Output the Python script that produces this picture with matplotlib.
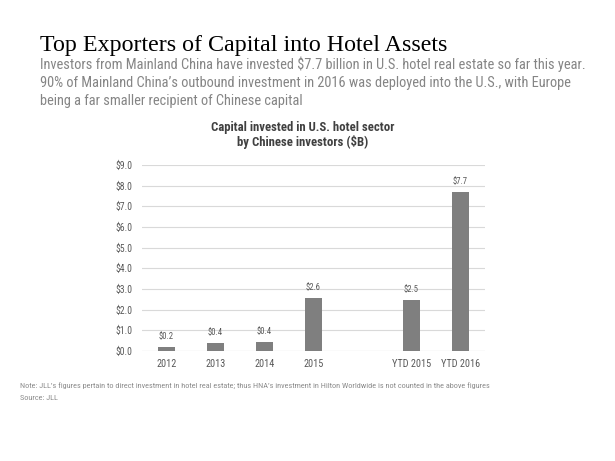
import matplotlib
matplotlib.use("Agg")
import matplotlib.pyplot as plt
from matplotlib import font_manager

# chart data
categories = ["2012", "2013", "2014", "2015", "", "YTD 2015", "YTD 2016"]
values = [0.2, 0.38, 0.42, 2.55, None, 2.45, 7.7]
value_labels = ["$0.2", "$0.4", "$0.4", "$2.6", "", "$2.5", "$7.7"]
yticks = [0, 1, 2, 3, 4, 5, 6, 7, 8, 9]

# pick an Arial Narrow look-alike, preferring one that has a bold face
fl = font_manager.fontManager.ttflist
cands = ["Liberation Sans Narrow", "Arial Narrow", "Archivo Narrow", "Roboto Condensed",
         "PT Sans Narrow", "Fira Sans Condensed", "Encode Sans Condensed",
         "IBM Plex Sans Condensed", "Open Sans Condensed"]
narrow = "Liberation Sans"
for cand in cands:
    faces = [f for f in fl if f.name == cand]
    if faces and any(int(f.weight) >= 600 for f in faces if str(f.weight).isdigit()):
        narrow = cand
        break
else:
    for cand in cands:
        if any(f.name == cand for f in fl):
            narrow = cand
            break

fig = plt.figure(figsize=(6.15, 4.61), dpi=100)
fig.patch.set_facecolor("white")
renderer = fig.canvas.get_renderer()


def size_for(text, target_px, **kw):
    # font size that makes text span target_px
    t = fig.text(0, 0, text, fontsize=10, **kw)
    w = t.get_window_extent(renderer).width
    t.remove()
    return 10 * target_px / w


title_size = size_for("Top Exporters of Capital into Hotel Assets", 407, family="Liberation Serif")
fig.text(40 / 615, 1 - 45 / 461, "Top Exporters of Capital into Hotel Assets",
         family="Liberation Serif", fontsize=title_size, color="black", va="center")

sub_lines = ["Investors from Mainland China have invested $7.7 billion in U.S. hotel real estate so far this year.",
             "90% of Mainland China\u2019s outbound investment in 2016 was deployed into the U.S., with Europe",
             "being a far smaller recipient of Chinese capital"]
sub_size = size_for(sub_lines[0], 544, family=narrow)
for i, line in enumerate(sub_lines):
    fig.text(40 / 615, 1 - (64 + i * 18.5) / 461, line, family=narrow, fontsize=sub_size,
             color="#858585", va="center")

ytick_size = size_for("$9.0", 17, family=narrow)
xtick_size = size_for("YTD 2015", 39, family=narrow)
val_size = size_for("$0.2", 15, family=narrow)

ax = fig.add_axes([142 / 615, 1 - 351 / 461, (485 - 142) / 615, (351 - 165) / 461])
xs = [i for i, v in enumerate(values) if v is not None]
hs = [v for v in values if v is not None]
ax.bar(xs, hs, width=0.33, color="#7f7f7f", zorder=3)
for i, v in enumerate(values):
    if v is not None:
        ax.text(i, v + 0.3, value_labels[i], ha="center", va="bottom",
                family=narrow, fontsize=val_size, color="#595959")

ax.set_xlim(-0.5, 6.5)
ax.set_ylim(0, 9)
ax.set_yticks(yticks)
ax.set_yticklabels([f"${t:.1f}" for t in yticks], family=narrow, fontsize=ytick_size, color="#595959")
ax.set_xticks(range(len(categories)))
ax.set_xticklabels(categories, family=narrow, fontsize=xtick_size, color="#595959")
ax.yaxis.grid(True, color="#d9d9d9", linewidth=0.8, zorder=0)
ax.tick_params(axis="y", length=0, pad=7)
ax.tick_params(axis="x", length=0, pad=6)
for s in ax.spines.values():
    s.set_visible(False)
ax.axhline(0, color="#d9d9d9", linewidth=0.8, zorder=2)

ct_size = size_for("Capital invested in U.S. hotel sector", 183, family=narrow, fontweight="bold")
fig.text(303 / 615, 1 - 128 / 461, "Capital invested in U.S. hotel sector",
         family=narrow, fontsize=ct_size, fontweight="bold", color="#404040",
         ha="center", va="center")
fig.text(303 / 615, 1 - 142 / 461, "by Chinese investors ($B)",
         family=narrow, fontsize=ct_size, fontweight="bold", color="#404040",
         ha="center", va="center")

note_text = ("Note: JLL\u2019s figures pertain to direct investment in hotel real estate; "
             "thus HNA\u2019s investment in Hilton Worldwide is not counted in the above figures")
note_size = size_for(note_text, 467, family=narrow)
fig.text(20 / 615, 1 - 386 / 461, note_text, family=narrow, fontsize=note_size,
         color="#8c8c8c", va="center")
fig.text(20 / 615, 1 - 398 / 461, "Source: JLL", family=narrow,
         fontsize=note_size, color="#8c8c8c", va="center")

fig.savefig("out.png", dpi=100)
